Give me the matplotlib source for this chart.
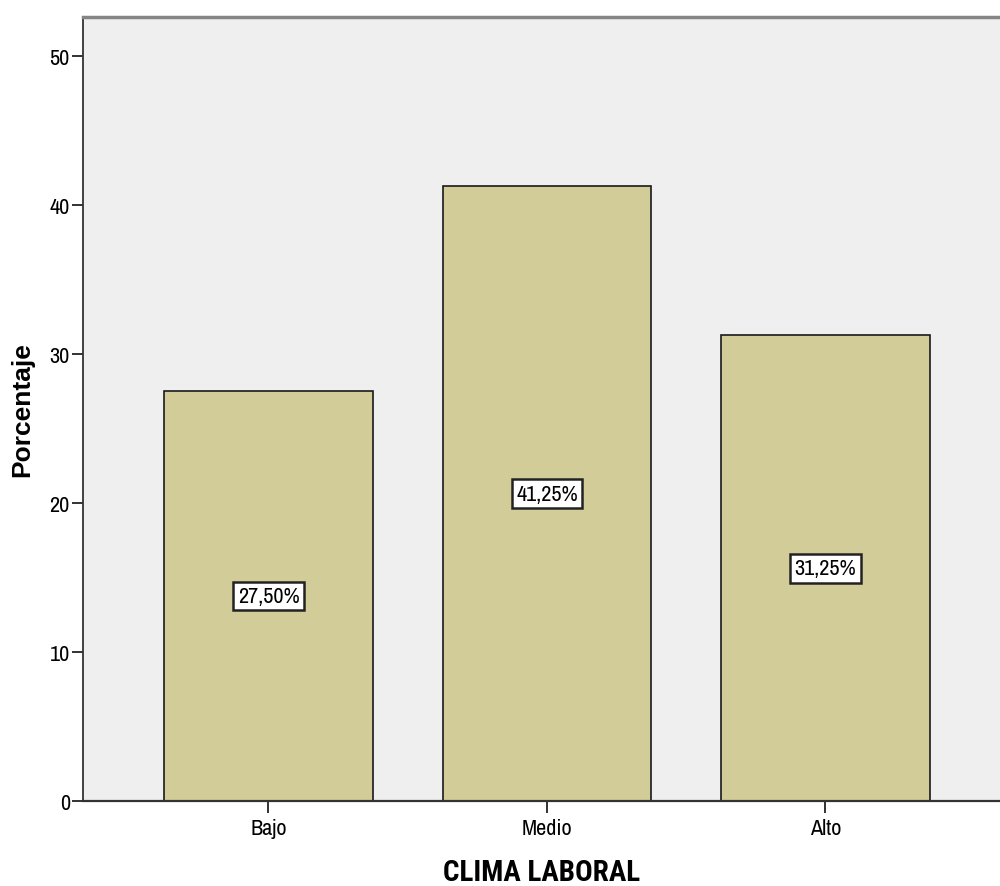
import numpy as np
import matplotlib.pyplot as plt

categorias = ["Bajo", "Medio", "Alto"]
porcentajes = [27.50, 41.25, 31.25]
yticks = [0, 10, 20, 30, 40, 50]

plt.rcParams['font.family'] = ['Archivo Narrow', 'Liberation Sans', 'DejaVu Sans']

fig = plt.figure(figsize=(10, 8.87), dpi=100)
ax = fig.add_axes([0.083, 0.0958, 0.917, 0.884])
ax.set_facecolor('#EFEFEF')

x = np.arange(len(categorias))
ax.bar(x, porcentajes, width=0.75, color='#D2CD98', edgecolor='#1a1a1a', linewidth=1.2, zorder=2)

# etiquetas de porcentaje en el centro de cada barra
for xi, p in zip(x, porcentajes):
    ax.text(xi, p / 2, f"{p:.2f}%".replace('.', ','), ha='center', va='center', fontsize=16,
            bbox=dict(boxstyle='square,pad=0.2', facecolor='white', edgecolor='#222222', linewidth=1.8),
            zorder=3)

ax.set_xlim(-0.666, 2.627)
ax.set_ylim(0, 52.6)
ax.set_xticks(x)
ax.set_xticklabels(categorias, fontsize=16)
ax.set_yticks(yticks)
ax.tick_params(axis='y', labelsize=16, length=8, width=1.3, pad=1.5, color='#222222')
ax.tick_params(axis='x', length=8.5, width=1.3, pad=4, color='#222222')

ax.spines['top'].set_color('#858585')
ax.spines['top'].set_linewidth(2.5)
ax.spines['right'].set_visible(False)
ax.spines['left'].set_color('#333333')
ax.spines['left'].set_linewidth(1.3)
ax.spines['bottom'].set_color('#333333')
ax.spines['bottom'].set_linewidth(1.6)

ax.set_ylabel("Porcentaje", fontsize=19, fontweight='bold', family=['Liberation Sans', 'DejaVu Sans'], labelpad=11)
ax.set_xlabel("CLIMA LABORAL", fontsize=21, fontweight='bold',
              family=['Roboto Condensed', 'PT Sans Narrow', 'Liberation Sans'], labelpad=14)

fig.savefig("out.png", dpi=100)
